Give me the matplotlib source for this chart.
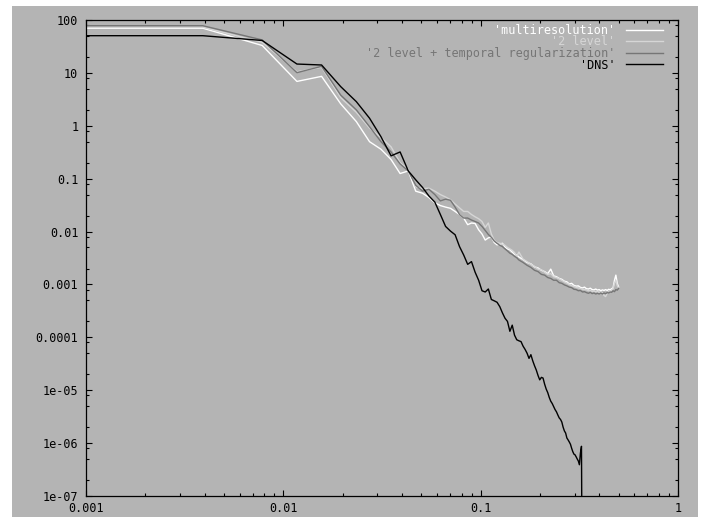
import numpy as np
import matplotlib
matplotlib.use("Agg")
import matplotlib.pyplot as plt
from matplotlib.patches import Rectangle
from matplotlib.ticker import LogLocator, FixedLocator, FixedFormatter, NullFormatter

# wavenumber index (x = k/256); 0.25 is the leftmost point drawn at the axis edge
k_les = [0.25] + list(range(1, 41)) + list(range(42, 129, 2))
k_dns = [0.25] + list(range(1, 85))

multires = [70, 70, 33, 6.9, 8.6, 2.6, 1.2, 0.50, 0.36, 0.23, 0.125,
            0.14, 0.058, 0.053, 0.044, 0.035, 0.031, 0.029, 0.0275, 0.024, 0.021,
            0.018, 0.0135, 0.0145, 0.0142, 0.0108, 0.009, 0.0069, 0.0076, 0.0079, 0.0062,
            0.0056, 0.0058, 0.0060, 0.0051, 0.0047, 0.0045, 0.0041, 0.0037, 0.0036, 0.0033,
            2.95e-3, 2.6e-3, 2.45e-3, 2.15e-3, 2.05e-3, 1.85e-3, 1.75e-3, 1.6e-3, 1.95e-3, 1.45e-3,
            1.4e-3, 1.3e-3, 1.25e-3, 1.15e-3, 1.12e-3, 1.02e-3, 1.05e-3, 9.6e-4, 9.3e-4, 9.4e-4,
            8.8e-4, 8.6e-4, 8.9e-4, 8.3e-4, 8.2e-4, 8.5e-4, 8.0e-4, 7.9e-4, 8.2e-4, 7.8e-4,
            8.0e-4, 7.6e-4, 7.9e-4, 7.7e-4, 8.0e-4, 7.7e-4, 8.1e-4, 7.9e-4, 8.3e-4, 8.6e-4,
            1.2e-3, 1.5e-3, 1.05e-3, 9.0e-4]

two_level = [73, 73, 38, 10.5, 12.8, 3.4, 1.8, 0.9, 0.6, 0.40, 0.2,
             0.15, 0.07, 0.065, 0.066, 0.058, 0.05, 0.045, 0.04, 0.033, 0.028,
             0.024, 0.024, 0.021, 0.019, 0.0175, 0.0155, 0.012, 0.0145, 0.009, 0.0068,
             0.0062, 0.0060, 0.0058, 0.0055, 0.0050, 0.0047, 0.0044, 0.0040, 0.0034, 0.0041,
             3.0e-3, 2.7e-3, 2.4e-3, 2.2e-3, 1.95e-3, 1.9e-3, 1.7e-3, 1.55e-3, 1.6e-3, 1.4e-3,
             1.35e-3, 1.28e-3, 1.2e-3, 1.12e-3, 1.06e-3, 1.0e-3, 9.5e-4, 9.2e-4, 8.8e-4, 8.6e-4,
             8.4e-4, 8.1e-4, 8.0e-4, 7.9e-4, 7.6e-4, 7.7e-4, 7.4e-4, 7.5e-4, 7.3e-4, 7.4e-4,
             7.1e-4, 7.3e-4, 6.9e-4, 6.2e-4, 5.9e-4, 6.8e-4, 7.2e-4, 7.4e-4, 7.8e-4, 8.3e-4,
             1.05e-3, 1.2e-3, 9.5e-4, 8.6e-4]

temporal = [78, 78, 42, 10.1, 13.3, 3.8, 2.0, 0.96, 0.50, 0.32, 0.19,
            0.14, 0.075, 0.058, 0.063, 0.050, 0.038, 0.041, 0.039, 0.029, 0.021,
            0.018, 0.018, 0.0165, 0.0155, 0.0145, 0.0125, 0.0105, 0.0088, 0.0078, 0.0066,
            0.0060, 0.0055, 0.0052, 0.0047, 0.0043, 0.0039, 0.0037, 0.0034, 0.0032, 0.0029,
            2.6e-3, 2.3e-3, 2.1e-3, 1.85e-3, 1.75e-3, 1.55e-3, 1.5e-3, 1.35e-3, 1.3e-3, 1.2e-3,
            1.2e-3, 1.08e-3, 1.05e-3, 9.8e-4, 9.4e-4, 8.9e-4, 8.7e-4, 8.1e-4, 8.0e-4, 7.6e-4,
            7.7e-4, 7.2e-4, 7.3e-4, 7.0e-4, 6.8e-4, 7.1e-4, 6.7e-4, 6.9e-4, 6.6e-4, 6.8e-4,
            6.6e-4, 6.9e-4, 6.6e-4, 6.9e-4, 6.7e-4, 7.0e-4, 6.9e-4, 7.2e-4, 7.1e-4, 7.6e-4,
            7.3e-4, 8.0e-4, 7.8e-4, 8.4e-4]

dns = [50.5, 50.5, 41, 14.7, 14.1, 5.5, 2.86, 1.39, 0.62, 0.27, 0.32,
       0.14, 0.095, 0.068, 0.047, 0.036, 0.021, 0.0125, 0.0102, 0.0087, 0.0052,
       0.0036, 0.0024, 0.0027, 0.0017, 0.0012, 7.6e-4, 7.2e-4, 8.2e-4, 5.2e-4, 4.9e-4,
       4.6e-4, 3.8e-4, 2.9e-4, 2.3e-4, 2.0e-4, 1.3e-4, 1.7e-4, 1.1e-4, 9.0e-5, 8.6e-5,
       8.3e-5, 6.8e-5, 5.9e-5, 5.0e-5, 4.0e-5, 4.7e-5, 3.6e-5, 2.9e-5, 2.4e-5, 1.9e-5,
       1.57e-5, 1.75e-5, 1.7e-5, 1.3e-5, 1.05e-5, 9.0e-6, 7.3e-6, 6.2e-6, 5.6e-6, 4.9e-6,
       4.3e-6, 3.9e-6, 3.4e-6, 3.0e-6, 2.8e-6, 2.5e-6, 2.0e-6, 1.7e-6, 1.55e-6, 1.25e-6,
       1.15e-6, 1.05e-6, 9.5e-7, 8.0e-7, 6.9e-7, 6.2e-7, 6.0e-7, 5.5e-7, 5.0e-7, 4.6e-7,
       3.9e-7, 6.5e-7, 8.7e-7, 1e-10]

labels = ["'multiresolution'", "'2 level'",
          "'2 level + temporal regularization'", "'DNS'"]
colors = ["#ffffff", "#d6d6d6", "#767676", "#000000"]

xticks = [0.001, 0.01, 0.1, 1]
xticklabels = ["0.001", "0.01", "0.1", "1"]
yticks = [1e-7, 1e-6, 1e-5, 1e-4, 1e-3, 1e-2, 1e-1, 1, 10, 100]
yticklabels = ["1e-07", "1e-06", "1e-05", "0.0001", "0.001", "0.01", "0.1", "1", "10", "100"]

bg = "#b4b4b4"
W, H = 707, 517

plt.rcParams['font.family'] = ['DejaVu Sans Mono']
fig = plt.figure(figsize=(W / 100, H / 100), dpi=100, facecolor="white")
fig.add_artist(Rectangle((12 / W, 0), (698 - 12) / W, (H - 6) / H,
                         transform=fig.transFigure, facecolor=bg, edgecolor="none", zorder=-5))
ax = fig.add_axes([86 / W, 1 - 496 / H, (678 - 86) / W, (496 - 20) / H])
ax.set_facecolor(bg)

series = [(k_les, multires), (k_les, two_level), (k_les, temporal), (k_dns, dns)]
for (kk, vals), lab, c in zip(series, labels, colors):
    ax.plot(np.array(kk) / 256.0, vals, color=c, lw=1.0, label=lab)

ax.set_xscale("log")
ax.set_yscale("log")
ax.set_xlim(0.001, 1)
ax.set_ylim(1e-7, 100)

ax.xaxis.set_major_locator(FixedLocator(xticks))
ax.xaxis.set_major_formatter(FixedFormatter(xticklabels))
ax.xaxis.set_minor_locator(LogLocator(base=10, subs=np.arange(2, 10), numticks=20))
ax.xaxis.set_minor_formatter(NullFormatter())
ax.yaxis.set_major_locator(FixedLocator(yticks))
ax.yaxis.set_major_formatter(FixedFormatter(yticklabels))
ax.yaxis.set_minor_locator(LogLocator(base=10, subs=(2, 5, 8), numticks=30))
ax.yaxis.set_minor_formatter(NullFormatter())

ax.tick_params(which="both", direction="in", top=True, right=True,
               colors="black", width=0.8, labelsize=8.5)
ax.tick_params(which="major", length=4.5)
ax.tick_params(which="minor", length=2.3)
ax.tick_params(axis="y", pad=5.5)
ax.tick_params(axis="x", pad=4)
for s in ax.spines.values():
    s.set_linewidth(0.9)
    s.set_color("black")

leg = ax.legend(loc="upper right", bbox_to_anchor=((663 - 86) / 592, 0.992),
                frameon=False, markerfirst=False, fontsize=8.5,
                handlelength=3.1, handletextpad=0.95, labelspacing=-0.12,
                borderpad=0, borderaxespad=0, labelcolor="linecolor")

fig.savefig("out.png", dpi=100, facecolor="white")
